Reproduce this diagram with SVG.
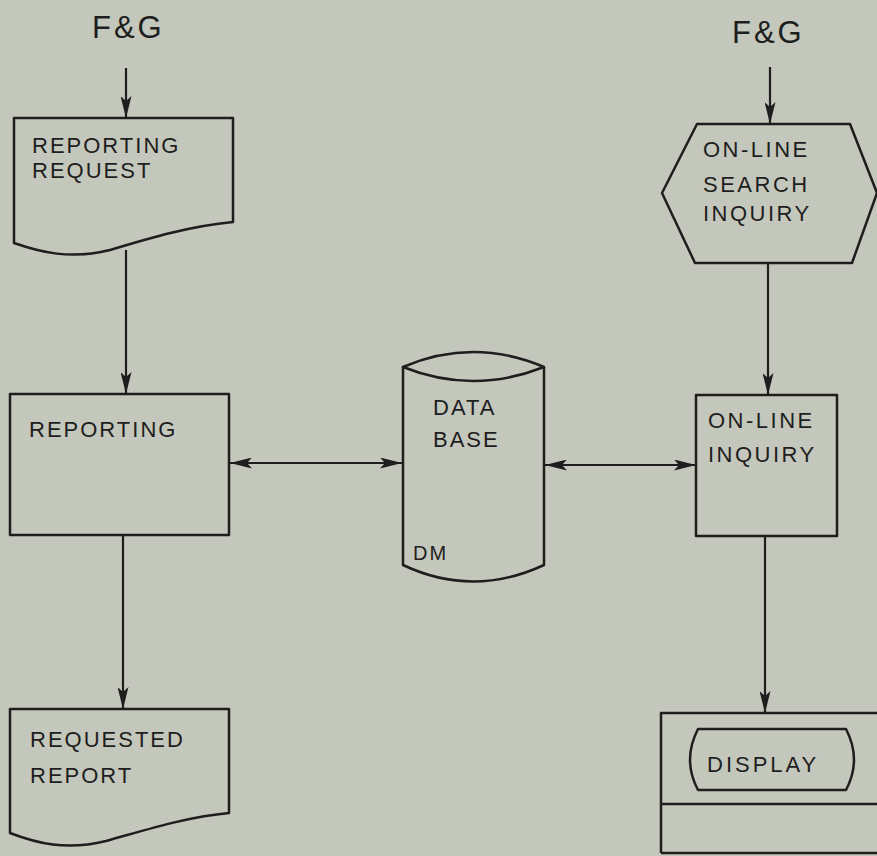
<svg xmlns="http://www.w3.org/2000/svg" width="877" height="856" viewBox="0 0 877 856">
<defs>
<style>
.bg{fill:#c4c7bb}
.shape{fill:none;stroke:#1e1e1e;stroke-width:2.5;stroke-linejoin:round}
.conn{fill:none;stroke:#1e1e1e;stroke-width:2.2}
.t{font-family:"Liberation Sans",Arial,sans-serif;fill:#1e1e1e;font-size:22px;letter-spacing:2px}
.big{font-size:31px;letter-spacing:3px}
.md{font-size:22px;letter-spacing:2.5px}
.sm{font-size:20px}
</style>
<marker id="ah" viewBox="0 0 22 11" refX="22" refY="5.5" markerWidth="22" markerHeight="11" markerUnits="userSpaceOnUse" orient="auto-start-reverse">
<path d="M0,0 L22,5.5 L0,11 L5,5.5 Z" fill="#1e1e1e"/>
</marker>
</defs>
<rect class="bg" x="0" y="0" width="877" height="856"/>

<g id="fg-left"><text class="t big" x="92" y="38">F&amp;G</text></g>
<g id="fg-right"><text class="t big" x="732" y="43">F&amp;G</text></g>

<g id="reporting-request">
<path class="shape" d="M14,118 L233,118 L233,222 C190,226 150,238 110,250 C70,260 40,252 14,243 Z"/>
<text class="t" x="32" y="153">REPORTING</text>
<text class="t" x="32" y="178">REQUEST</text>
</g>

<g id="reporting">
<rect class="shape" x="10" y="394" width="219" height="141"/>
<text class="t" x="29" y="437">REPORTING</text>
</g>

<g id="requested-report">
<path class="shape" d="M10,709 L229,709 L229,813 C186,817 146,830 106,841 C66,851 36,843 10,833 Z"/>
<text class="t" x="30" y="747">REQUESTED</text>
<text class="t" x="30" y="783">REPORT</text>
</g>

<g id="database">
<path class="shape" d="M403,367 L403,565 Q473,598 544,565 L544,367"/>
<path class="shape" d="M403,367 Q473,337 544,367 Q473,395 403,367 Z"/>
<text class="t" x="433" y="415">DATA</text>
<text class="t" x="433" y="447">BASE</text>
<text class="t sm" x="413" y="560">DM</text>
</g>

<g id="search-inquiry">
<path class="shape" d="M697,124 L850,124 L877,193 L852,263 L695,263 L662,193 Z"/>
<text class="t md" x="703" y="157">ON-LINE</text>
<text class="t md" x="703" y="192">SEARCH</text>
<text class="t md" x="703" y="221">INQUIRY</text>
</g>

<g id="online-inquiry">
<rect class="shape" x="696" y="395" width="141" height="141"/>
<text class="t md" x="708" y="428">ON-LINE</text>
<text class="t md" x="708" y="462">INQUIRY</text>
</g>

<g id="display">
<path class="shape" d="M661,853 L661,713 L877,713"/>
<path class="shape" d="M661,804 L877,804"/>
<path class="shape" d="M661,853 L877,853"/>
<path class="shape" d="M698,729 L846,729 Q862,760 846,790 L698,790 Q682,760 698,729 Z"/>
<text class="t" x="707" y="772" style="letter-spacing:3px">DISPLAY</text>
</g>

<g id="connectors">
<line class="conn" x1="126" y1="68" x2="126" y2="118" marker-end="url(#ah)"/>
<line class="conn" x1="126" y1="250" x2="126" y2="394" marker-end="url(#ah)"/>
<line class="conn" x1="123" y1="535" x2="123" y2="709" marker-end="url(#ah)"/>
<line class="conn" x1="230" y1="463" x2="402" y2="463" marker-start="url(#ah)" marker-end="url(#ah)"/>
<line class="conn" x1="545" y1="465" x2="696" y2="465" marker-start="url(#ah)" marker-end="url(#ah)"/>
<line class="conn" x1="770" y1="67" x2="770" y2="124" marker-end="url(#ah)"/>
<line class="conn" x1="768" y1="263" x2="768" y2="395" marker-end="url(#ah)"/>
<line class="conn" x1="765" y1="536" x2="765" y2="713" marker-end="url(#ah)"/>
</g>
</svg>
